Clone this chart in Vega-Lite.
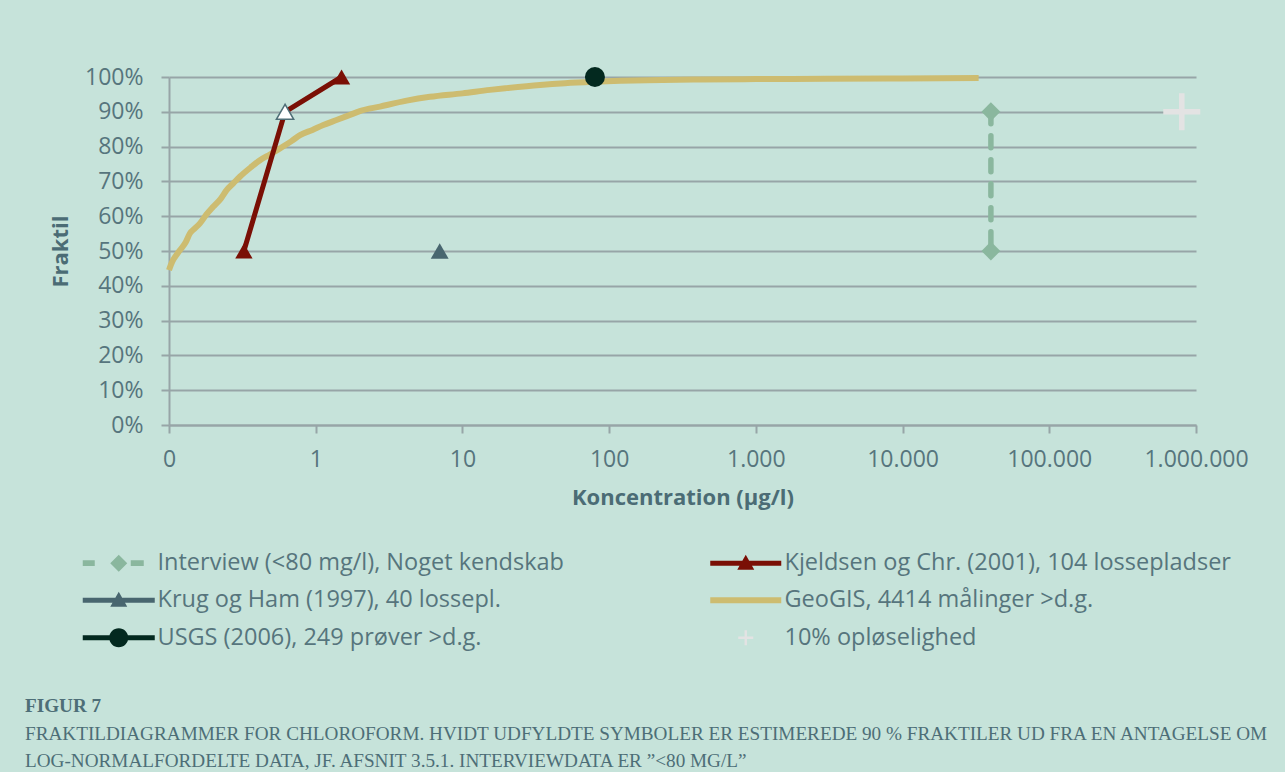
{
  "$schema": "https://vega.github.io/schema/vega-lite/v6.json",
  "width": 1027,
  "height": 348,
  "autosize": {"type": "none"},
  "padding": {"left": 169, "top": 77, "right": 89, "bottom": 347},
  "background": "#C6E3DA",
  "config": {
    "view": {"stroke": null},
    "axis": {
      "domainColor": "#97A5A7", "domainWidth": 2,
      "gridColor": "#97A5A7", "gridWidth": 2,
      "tickColor": "#97A5A7", "tickWidth": 2, "tickSize": 8,
      "labelFont": "Open Sans", "labelFontSize": 23, "labelColor": "#56757D",
      "titleFont": "Open Sans", "titleFontSize": 22, "titleFontWeight": "bold", "titleColor": "#4B6C75"
    }
  },
  "title": {
    "text": "FIGUR 7",
    "subtitle": [
      "FRAKTILDIAGRAMMER FOR CHLOROFORM. HVIDT UDFYLDTE SYMBOLER ER ESTIMEREDE 90 % FRAKTILER UD FRA EN ANTAGELSE OM",
      "LOG-NORMALFORDELTE DATA, JF. AFSNIT 3.5.1. INTERVIEWDATA ER ”<80 MG/L”"
    ],
    "orient": "bottom",
    "anchor": "start",
    "frame": "group",
    "dx": -144,
    "dy": 43,
    "font": "Liberation Serif",
    "fontSize": 19.2,
    "fontWeight": "bold",
    "color": "#4D6E77",
    "subtitleFont": "Liberation Serif",
    "subtitleFontSize": 19.2,
    "subtitleColor": "#4D6E77",
    "subtitleLineHeight": 27,
    "subtitlePadding": 9
  },
  "datasets": {
    "geogis": [
      {"conc": 0.1, "frac": 0.445}, {"conc": 0.103, "frac": 0.46}, {"conc": 0.107, "frac": 0.475},
      {"conc": 0.113, "frac": 0.49}, {"conc": 0.119, "frac": 0.503}, {"conc": 0.13, "frac": 0.525},
      {"conc": 0.139, "frac": 0.551}, {"conc": 0.15, "frac": 0.565}, {"conc": 0.163, "frac": 0.58},
      {"conc": 0.18, "frac": 0.605}, {"conc": 0.2, "frac": 0.627}, {"conc": 0.225, "frac": 0.65},
      {"conc": 0.247, "frac": 0.675}, {"conc": 0.275, "frac": 0.695}, {"conc": 0.305, "frac": 0.714},
      {"conc": 0.36, "frac": 0.74}, {"conc": 0.417, "frac": 0.761}, {"conc": 0.49, "frac": 0.778},
      {"conc": 0.571, "frac": 0.795}, {"conc": 0.68, "frac": 0.815}, {"conc": 0.782, "frac": 0.833},
      {"conc": 0.95, "frac": 0.848}, {"conc": 1.127, "frac": 0.862}, {"conc": 1.4, "frac": 0.877},
      {"conc": 1.71, "frac": 0.891}, {"conc": 2.0, "frac": 0.902}, {"conc": 2.74, "frac": 0.915},
      {"conc": 4.17, "frac": 0.932}, {"conc": 6.0, "frac": 0.943}, {"conc": 10, "frac": 0.953},
      {"conc": 15.4, "frac": 0.963}, {"conc": 20, "frac": 0.968}, {"conc": 33.8, "frac": 0.977},
      {"conc": 50, "frac": 0.982}, {"conc": 77.6, "frac": 0.986}, {"conc": 120, "frac": 0.989},
      {"conc": 181, "frac": 0.991}, {"conc": 417, "frac": 0.993}, {"conc": 1000, "frac": 0.994},
      {"conc": 3000, "frac": 0.995}, {"conc": 10000, "frac": 0.996}, {"conc": 33000, "frac": 0.997}
    ],
    "kjeldsen": [
      {"conc": 0.324, "frac": 0.5, "est": "nej"},
      {"conc": 0.618, "frac": 0.9, "est": "ja"},
      {"conc": 1.5, "frac": 1.0, "est": "nej"}
    ],
    "interview": [
      {"conc": 40000, "frac": 0.9},
      {"conc": 40000, "frac": 0.5}
    ],
    "krug": [{"conc": 7, "frac": 0.5}],
    "usgs": [{"conc": 80, "frac": 1.0}],
    "opl": [{"conc": 800000, "frac": 0.9}],
    "legend": [
      {"label": "Interview (<80 mg/l), Noget kendskab", "conc": 40000, "frac": 0.9},
      {"label": "Kjeldsen og Chr. (2001), 104 lossepladser", "conc": 1.5, "frac": 1.0},
      {"label": "Krug og Ham (1997), 40 lossepl.", "conc": 7, "frac": 0.5},
      {"label": "GeoGIS, 4414 målinger >d.g.", "conc": 1000, "frac": 0.994},
      {"label": "USGS (2006), 249 prøver >d.g.", "conc": 80, "frac": 1.0},
      {"label": "10% opløselighed", "conc": 800000, "frac": 0.9}
    ]
  },
  "encoding": {
    "x": {
      "field": "conc", "type": "quantitative",
      "scale": {"type": "log", "domain": [0.1, 1000000], "nice": false},
      "axis": {
        "title": "Koncentration (µg/l)",
        "values": [0.1, 1, 10, 100, 1000, 10000, 100000, 1000000],
        "labelExpr": "datum.value < 1 ? '0' : replace(replace(format(datum.value, ',.0f'), ',', '.'), ',', '.')",
        "grid": false,
        "labelFlush": false,
        "labelOverlap": false,
        "labelPadding": 15,
        "titlePadding": 16
      }
    },
    "y": {
      "field": "frac", "type": "quantitative",
      "scale": {"domain": [0, 1], "nice": false, "zero": true},
      "axis": {
        "title": "Fraktil",
        "values": [0, 0.1, 0.2, 0.3, 0.4, 0.5, 0.6, 0.7, 0.8, 0.9, 1.0],
        "format": ".0%",
        "grid": true,
        "labelFlush": false,
        "labelPadding": 18,
        "titlePadding": 12
      }
    }
  },
  "layer": [
    {
      "data": {"name": "legend"},
      "mark": {"type": "point", "filled": true, "opacity": 0, "size": 400},
      "encoding": {
        "color": {
          "field": "label", "type": "nominal",
          "scale": {
            "domain": ["Interview (<80 mg/l), Noget kendskab", "Kjeldsen og Chr. (2001), 104 lossepladser", "Krug og Ham (1997), 40 lossepl.", "GeoGIS, 4414 målinger >d.g.", "USGS (2006), 249 prøver >d.g.", "10% opløselighed"],
            "range": ["#8AB79E", "#7A0F05", "#48666F", "#CDBC70", "#03291F", "#E3E3E3"]
          },
          "legend": {
            "orient": "none",
            "direction": "horizontal",
            "legendX": -62,
            "legendY": 474,
            "columns": 2,
            "title": null,
            "padding": 0,
            "labelFont": "Open Sans",
            "labelFontSize": 23.5,
            "labelColor": "#56757D",
            "labelLimit": 700,
            "labelOffset": 27,
            "columnPadding": 146,
            "rowPadding": 12.5,
            "symbolSize": 400,
            "symbolStrokeWidth": 0,
            "symbolOpacity": 1,
            "encode": {"symbols": {"update": {"opacity": {"value": 1}, "fillOpacity": {"value": 1}}}}
          }
        },
        "shape": {
          "field": "label", "type": "nominal",
          "scale": {
            "domain": ["Interview (<80 mg/l), Noget kendskab", "Kjeldsen og Chr. (2001), 104 lossepladser", "Krug og Ham (1997), 40 lossepl.", "GeoGIS, 4414 målinger >d.g.", "USGS (2006), 249 prøver >d.g.", "10% opløselighed"],
            "range": [
              "M-3.6,-0.28H-2.4V0.28H-3.6Z M0,-0.85L0.85,0L0,0.85L-0.85,0Z M1.2,-0.28H2.5V0.28H1.2Z",
              "M-3.55,-0.25H3.55V0.25H-3.55Z M0,-0.85L0.85,0.65L-0.85,0.65Z",
              "M-3.6,-0.25H3.6V0.25H-3.6Z M0,-0.85L0.85,0.65L-0.85,0.65Z",
              "M-3.55,-0.3H3.55V0.3H-3.55Z",
              "M-3.6,-0.25H3.6V0.25H-3.6Z M-0.95,0A0.95,0.95 0 1,1 0.95,0A0.95,0.95 0 1,1 -0.95,0Z",
              "M-0.12,-0.75H0.12V-0.12H0.75V0.12H0.12V0.75H-0.12V0.12H-0.75V-0.12H-0.12Z"
            ]
          }
        }
      }
    },
    {
      "data": {"name": "geogis"},
      "mark": {"type": "line", "color": "#CDBC70", "strokeWidth": 6, "interpolate": "monotone"},
      "encoding": {}
    },
    {
      "data": {"name": "kjeldsen"},
      "mark": {"type": "line", "color": "#7A0F05", "strokeWidth": 5},
      "encoding": {}
    },
    {
      "data": {"name": "kjeldsen"},
      "transform": [{"filter": "datum.est === 'nej'"}],
      "mark": {"type": "point", "shape": "triangle-up", "filled": true, "color": "#7A0F05", "size": 300, "opacity": 1}
    },
    {
      "data": {"name": "kjeldsen"},
      "transform": [{"filter": "datum.est === 'ja'"}],
      "mark": {"type": "point", "shape": "triangle-up", "filled": true, "fill": "#FFFFFF", "stroke": "#4F6F77", "strokeWidth": 1.5, "size": 300, "opacity": 1}
    },
    {
      "data": {"name": "interview"},
      "mark": {"type": "line", "color": "#8AB79E", "strokeWidth": 5.5, "strokeDash": [12, 12], "strokeCap": "round"},
      "encoding": {"order": {"field": "frac", "sort": "descending"}}
    },
    {
      "data": {"name": "interview"},
      "mark": {"type": "point", "shape": "diamond", "filled": true, "color": "#8AB79E", "size": 360, "opacity": 1}
    },
    {
      "data": {"name": "krug"},
      "mark": {"type": "point", "shape": "triangle-up", "filled": true, "color": "#48666F", "size": 320, "opacity": 1}
    },
    {
      "data": {"name": "usgs"},
      "mark": {"type": "point", "shape": "circle", "filled": true, "color": "#03291F", "size": 400, "opacity": 1}
    },
    {
      "data": {"name": "opl"},
      "mark": {"type": "point", "shape": "M-0.15,-1H0.15V-0.15H1V0.15H0.15V1H-0.15V0.15H-1V-0.15H-0.15Z", "filled": true, "color": "#E3E3E3", "size": 1369, "opacity": 1}
    }
  ]
}
